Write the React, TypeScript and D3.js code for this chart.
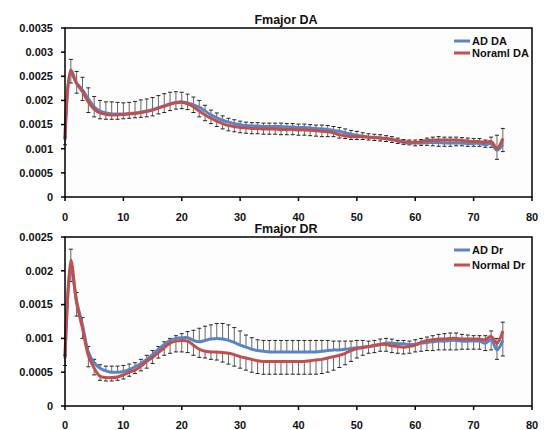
import React from "react";
import * as d3 from "d3";

const xs: number[] = d3.range(0, 76);

const adDA = [0.00118, 0.00255, 0.00236, 0.00222, 0.00203, 0.00187, 0.00178, 0.00174, 0.00172, 0.00172,
  0.00172, 0.00173, 0.00174, 0.00176, 0.00178, 0.00181, 0.00185, 0.00189, 0.00193, 0.00196,
  0.00197, 0.00195, 0.00191, 0.00186, 0.00178, 0.0017, 0.00164, 0.00159, 0.00155, 0.00152,
  0.0015, 0.00148, 0.00147, 0.00147, 0.00146, 0.00146, 0.00146, 0.00146, 0.00145, 0.00145,
  0.00144, 0.00144, 0.00143, 0.00142, 0.00141, 0.0014, 0.00138, 0.00136, 0.00133, 0.0013,
  0.00128, 0.00126, 0.00124, 0.00123, 0.00122, 0.00121, 0.00119, 0.00116, 0.00113, 0.00112,
  0.00112, 0.00112, 0.00113, 0.00113, 0.00113, 0.00112, 0.00112, 0.00112, 0.00112, 0.00111,
  0.00111, 0.00111, 0.00108, 0.00111, 0.00097, 0.00109];

const normalDA = [0.00122, 0.00263, 0.00235, 0.00218, 0.00197, 0.00182, 0.00174, 0.00171, 0.0017, 0.0017,
  0.00171, 0.00172, 0.00173, 0.00175, 0.00177, 0.0018, 0.00184, 0.00188, 0.00192, 0.00195,
  0.00196, 0.00193, 0.00187, 0.00178, 0.0017, 0.00163, 0.00157, 0.00152, 0.00148, 0.00146,
  0.00144, 0.00143, 0.00142, 0.00142, 0.00141, 0.00141, 0.00141, 0.0014, 0.0014, 0.0014,
  0.00139, 0.00139, 0.00138, 0.00137, 0.00136, 0.00135, 0.00133, 0.00129, 0.00127, 0.00125,
  0.00125, 0.00125, 0.00124, 0.00123, 0.00122, 0.00121, 0.00119, 0.00117, 0.00115, 0.00114,
  0.00113, 0.00115, 0.00117, 0.00118, 0.00118, 0.00118, 0.00118, 0.00118, 0.00117, 0.00116,
  0.00115, 0.00115, 0.00113, 0.00115, 0.00101, 0.00121];

const errAdDA = [0.00005, 0.0003, 0.00024, 0.00026, 0.00023, 0.00021, 0.00022, 0.00023, 0.00025, 0.00024,
  0.00023, 0.00023, 0.00024, 0.00025, 0.00025, 0.00025, 0.00025, 0.00025, 0.00024, 0.00022,
  0.0002, 0.00018, 0.00016, 0.00014, 0.00012, 0.0001, 0.0001, 0.00009, 0.00008, 0.00008,
  0.00007, 0.00007, 0.00007, 0.00007, 0.00007, 0.00007, 0.00007, 0.00007, 0.00007, 0.00007,
  0.00007, 0.00007, 0.00007, 0.00007, 0.00008, 0.00008, 0.00008, 0.00008, 0.00008, 0.00008,
  0.00008, 0.00007, 0.00007, 0.00007, 0.00007, 0.00006, 0.00006, 0.00006, 0.00006, 0.00006,
  0.00006, 0.00007, 0.00009, 0.00011, 0.00012, 0.00012, 0.00012, 0.00012, 0.00011, 0.00011,
  0.0001, 0.0001, 0.0001, 0.00013, 0.00031, 0.00033];

const errNormalDA = [0.00014, 0.00027, 0.0002, 0.00018, 0.00022, 0.00016, 0.00012, 0.0001, 0.00009, 0.00009,
  0.00009, 0.00009, 0.00009, 0.0001, 0.00011, 0.00012, 0.00012, 0.00013, 0.00013, 0.00013,
  0.00013, 0.00012, 0.00012, 0.00012, 0.00012, 0.00011, 0.00011, 0.00011, 0.00011, 0.00011,
  0.00011, 0.00011, 0.00011, 0.00011, 0.00011, 0.00011, 0.00011, 0.00011, 0.00011, 0.00011,
  0.00011, 0.00011, 0.00011, 0.00011, 0.00011, 0.0001, 0.00008, 0.00007, 0.00006, 0.00006,
  0.00006, 0.00006, 0.00006, 0.00006, 0.00006, 0.00006, 0.00006, 0.00006, 0.00006, 0.00006,
  0.00007, 0.00008, 0.0001, 0.00012, 0.00013, 0.00013, 0.00013, 0.00012, 0.00011, 0.00011,
  0.0001, 0.0001, 0.0001, 0.00012, 0.00023, 0.00027];

const adDr = [0.0007, 0.00205, 0.00155, 0.0012, 0.0008, 0.00064, 0.00056, 0.00052, 0.0005, 0.0005,
  0.00051, 0.00054, 0.00058, 0.00063, 0.00069, 0.00076, 0.00084, 0.00091, 0.00097, 0.001,
  0.00101, 0.00101, 0.00097, 0.00095, 0.00097, 0.00099, 0.001, 0.00099, 0.00097, 0.00094,
  0.0009, 0.00087, 0.00084, 0.00082, 0.00081, 0.0008, 0.0008, 0.0008, 0.0008, 0.0008,
  0.0008, 0.0008, 0.0008, 0.0008, 0.00081, 0.00082, 0.00083, 0.00083, 0.00084, 0.00085,
  0.00086, 0.00086, 0.00088, 0.00089, 0.00091, 0.00093, 0.00093, 0.00092, 0.00092, 0.00091,
  0.00091, 0.00093, 0.00094, 0.00095, 0.00096, 0.00096, 0.00097, 0.00097, 0.00096, 0.00096,
  0.00096, 0.00096, 0.00093, 0.00098, 0.00083, 0.00097];

const normalDr = [0.00073, 0.00216, 0.00152, 0.00115, 0.00075, 0.00056, 0.00044, 0.00042, 0.00042, 0.00043,
  0.00046, 0.0005, 0.00053, 0.00059, 0.00066, 0.00072, 0.00079, 0.00086, 0.00093, 0.00096,
  0.00097, 0.00096, 0.0009, 0.00084, 0.00081, 0.0008, 0.0008, 0.00079, 0.00078, 0.00076,
  0.00073, 0.00071, 0.00069, 0.00067, 0.00066, 0.00066, 0.00066, 0.00066, 0.00066, 0.00066,
  0.00066, 0.00066, 0.00067, 0.00068, 0.00069, 0.00071, 0.00073, 0.00075, 0.00078, 0.00082,
  0.00085, 0.00087, 0.00088, 0.0009, 0.00091, 0.00091, 0.00089, 0.00088, 0.00087, 0.00088,
  0.0009, 0.00094, 0.00097, 0.00098, 0.00099, 0.00099, 0.001, 0.001, 0.00099, 0.00099,
  0.00099, 0.00099, 0.00098, 0.00103, 0.00093, 0.00111];

const errAdDr = [0.00005, 0.00027, 0.00013, 0.00011, 0.00008, 0.00005, 0.00005, 0.00007, 0.00009, 0.00009,
  0.00009, 0.00008, 0.00006, 0.00006, 0.00006, 0.00006, 0.00004, 0.00004, 0.00003, 0.00004,
  0.00006, 0.00009, 0.00015, 0.0002, 0.00021, 0.00021, 0.00022, 0.00023, 0.00023, 0.00022,
  0.00021, 0.00018, 0.00017, 0.00016, 0.00016, 0.00017, 0.00017, 0.00017, 0.00017, 0.00017,
  0.00017, 0.00017, 0.00017, 0.00017, 0.00016, 0.00015, 0.00013, 0.00013, 0.00012, 0.00011,
  0.00011, 0.00011, 0.00008, 0.00008, 0.00008, 0.00007, 0.00006, 0.00005, 0.00005, 0.00005,
  0.00007, 0.00007, 0.00008, 0.00009, 0.0001, 0.00011, 0.00011, 0.00011, 0.0001, 0.00009,
  0.00008, 0.00008, 0.00011, 0.00013, 0.00017, 0.00027];

const errNormalDr = [0.00013, 0.00032, 0.00019, 0.00015, 0.00017, 0.0001, 0.00006, 0.00005, 0.00005, 0.00005,
  0.00006, 0.00006, 0.00005, 0.00007, 0.0001, 0.00009, 0.00008, 0.00011, 0.00015, 0.00016,
  0.00017, 0.00017, 0.00015, 0.00012, 0.0001, 0.00011, 0.00012, 0.00014, 0.00016, 0.00017,
  0.00017, 0.00018, 0.00019, 0.00019, 0.00019, 0.00019, 0.00019, 0.00019, 0.00019, 0.00019,
  0.00019, 0.00019, 0.0002, 0.00021, 0.00021, 0.00021, 0.0002, 0.00018, 0.00017, 0.00016,
  0.00014, 0.00012, 0.0001, 0.00011, 0.0001, 0.0001, 0.0001, 0.0001, 0.0001, 0.0001,
  0.0001, 0.00013, 0.00015, 0.00016, 0.00016, 0.00016, 0.00017, 0.00017, 0.00015, 0.00015,
  0.00015, 0.00015, 0.00016, 0.0002, 0.00024, 0.00037];

const xTicks = [0, 10, 20, 30, 40, 50, 60, 70, 80];
const yTicksDA = [0, 0.0005, 0.001, 0.0015, 0.002, 0.0025, 0.003, 0.0035];
const yTicksDr = [0, 0.0005, 0.001, 0.0015, 0.002, 0.0025];
const namesDA = ["AD DA", "Noraml DA"];
const namesDr = ["AD Dr", "Normal Dr"];

const BLUE = "#5a84c6";
const RED = "#c0504d";
const FONT = "'Liberation Sans', Arial, sans-serif";

type PanelProps = {
  top: number;
  bottom: number;
  title: string;
  titleY: number;
  yTicks: number[];
  yMax: number;
  ad: number[];
  normal: number[];
  errAd: number[];
  errNormal: number[];
  names: string[];
  legendY: number[];
  xLabelY: number;
};

function Panel(p: PanelProps) {
  const left = 65;
  const right = 532;
  const x = d3.scaleLinear().domain([0, 80]).range([left, right]);
  const y = d3.scaleLinear().domain([0, p.yMax]).range([p.bottom, p.top]);
  const line = d3
    .line<number>()
    .x((_, i) => x(xs[i]))
    .y((d) => y(d))
    .curve(d3.curveCatmullRom.alpha(0.5));
  const fmt = (v: number) => (v === 0 ? "0" : String(+v.toFixed(4)));
  const cap = 2;
  return (
    <g>
      <rect x={left} y={p.top} width={right - left} height={p.bottom - p.top} fill="#fdfdfd" />
      <g stroke="#222" strokeWidth={1}>
        {xs.map((xv, i) => {
          const cx = x(xv);
          const y0 = y(p.ad[i]);
          const y1 = y(p.ad[i] + p.errAd[i]);
          const n0 = y(p.normal[i]);
          const n1 = y(p.normal[i] - p.errNormal[i]);
          return (
            <g key={i}>
              <line x1={cx} x2={cx} y1={y0} y2={y1} stroke="#666" />
              <line x1={cx - cap} x2={cx + cap} y1={y1} y2={y1} />
              <line x1={cx} x2={cx} y1={n0} y2={n1} stroke="#666" />
              <line x1={cx - cap} x2={cx + cap} y1={n1} y2={n1} />
            </g>
          );
        })}
      </g>
      <path d={line(p.ad) || ""} fill="none" stroke={BLUE} strokeWidth={3} />
      <path d={line(p.normal) || ""} fill="none" stroke={RED} strokeWidth={3} />
      <rect x={left} y={p.top} width={right - left} height={p.bottom - p.top} fill="none" stroke="#000" strokeWidth={1.5} />
      {p.yTicks.map((t) => (
        <g key={t}>
          <line x1={left - 4} x2={left} y1={y(t)} y2={y(t)} stroke="#000" strokeWidth={1.5} />
          <text x={53} y={y(t)} dy="0.35em" textAnchor="end" fontSize={11} fontWeight="bold" fontFamily={FONT} fill="#111">
            {fmt(t)}
          </text>
        </g>
      ))}
      {xTicks.map((t) => (
        <g key={t}>
          <line x1={x(t)} x2={x(t)} y1={p.bottom} y2={p.bottom + 4} stroke="#000" strokeWidth={1.5} />
          <text x={x(t)} y={p.xLabelY} textAnchor="middle" fontSize={11} fontWeight="bold" fontFamily={FONT} fill="#111">
            {t}
          </text>
        </g>
      ))}
      <text x={286} y={p.titleY} textAnchor="middle" fontSize={12.5} fontWeight="bold" fontFamily={FONT} fill="#111">
        {p.title}
      </text>
      {[BLUE, RED].map((c, k) => (
        <g key={k}>
          <line x1={454} x2={470} y1={p.legendY[k]} y2={p.legendY[k]} stroke={c} strokeWidth={3} />
          <text x={472} y={p.legendY[k]} dy="0.35em" fontSize={11} fontWeight="bold" fontFamily={FONT} fill="#111">
            {p.names[k]}
          </text>
        </g>
      ))}
    </g>
  );
}

export default function App() {
  return (
    <svg width={550} height={430} style={{ position: "absolute", left: 0, top: 0, background: "#fff" }}>
      <rect x={0} y={0} width={550} height={430} fill="#fff" />
      <Panel
        top={28}
        bottom={197}
        title="Fmajor DA"
        titleY={24}
        yTicks={yTicksDA}
        yMax={0.0035}
        ad={adDA}
        normal={normalDA}
        errAd={errAdDA}
        errNormal={errNormalDA}
        names={namesDA}
        legendY={[41, 53]}
        xLabelY={221}
      />
      <Panel
        top={237}
        bottom={406}
        title="Fmajor DR"
        titleY={233}
        yTicks={yTicksDr}
        yMax={0.0025}
        ad={adDr}
        normal={normalDr}
        errAd={errAdDr}
        errNormal={errNormalDr}
        names={namesDr}
        legendY={[250, 265]}
        xLabelY={429}
      />
    </svg>
  );
}
